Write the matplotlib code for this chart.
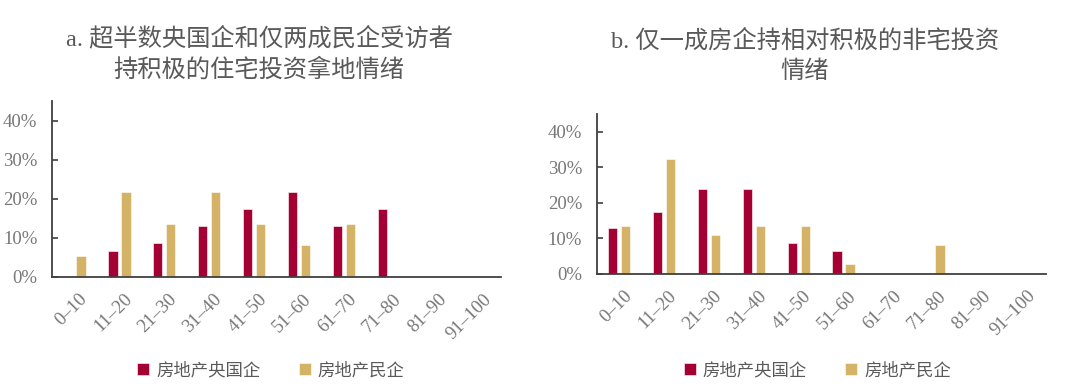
import numpy as np
import matplotlib
matplotlib.use('Agg')
import matplotlib.pyplot as plt
from matplotlib.ticker import PercentFormatter
from matplotlib.transforms import ScaledTranslation

plt.rcParams['font.family'] = ['Liberation Serif', 'Noto Sans CJK SC']

categories = ['0–10', '11–20', '21–30', '31–40', '41–50', '51–60',
              '61–70', '71–80', '81–90', '91–100']
series_names = ['房地产央国企', '房地产民企']

# a. 住宅投资拿地情绪 (%)
resid_soe = [0, 6.5, 8.7, 13.0, 17.4, 21.7, 13.0, 17.4, 0, 0]
resid_private = [5.4, 21.6, 13.5, 21.6, 13.5, 8.1, 13.5, 0, 0, 0]

# b. 非宅投资情绪 (%)
nonres_soe = [13.0, 17.4, 23.9, 23.9, 8.7, 6.5, 0, 0, 0, 0]
nonres_private = [13.5, 32.4, 10.8, 13.5, 13.5, 2.7, 0, 8.1, 0, 0]

titles = ['a. 超半数央国企和仅两成民企受访者\n持积极的住宅投资拿地情绪',
          'b. 仅一成房企持相对积极的非宅投资\n情绪']

red = '#A50034'
gold = '#D4B366'
text_grey = '#595959'
tick_grey = '#777777'

fig = plt.figure(figsize=(10.8, 3.92), dpi=100)
ax_pos = [[0.0481, 0.294, 0.4158, 0.448],
          [0.5525, 0.302, 0.4157, 0.407]]
title_x = [0.24, 0.745]
title_y = [0.862, 0.857]
legend_x = [0.251, 0.757]
data = [(resid_soe, resid_private), (nonres_soe, nonres_private)]

x = np.arange(len(categories))
w = 0.21
off = 0.145

for i in range(2):
    ax = fig.add_axes(ax_pos[i])
    soe, pri = data[i]
    b1 = ax.bar(x - off, soe, w, color=red, edgecolor='white', linewidth=0.4, label=series_names[0])
    b2 = ax.bar(x + off, pri, w, color=gold, edgecolor='white', linewidth=0.4, label=series_names[1])
    ax.set_xlim(-0.5, len(categories) - 0.5)
    ax.set_ylim(0, 45)
    ax.set_yticks([0, 10, 20, 30, 40])
    ax.yaxis.set_major_formatter(PercentFormatter(decimals=0))
    for s in ['top', 'right']:
        ax.spines[s].set_visible(False)
    for s in ['left', 'bottom']:
        ax.spines[s].set_color('#404040')
        ax.spines[s].set_linewidth(1.3)
    ax.tick_params(axis='y', direction='in', length=4, width=1.2, color='#404040',
                   labelsize=13.5, labelcolor=tick_grey, pad=10.5)
    ax.tick_params(axis='x', length=0, labelsize=13.5, labelcolor=tick_grey, pad=10)
    ax.set_xticks(x)
    ax.set_xticklabels(categories, rotation=45, ha='right', rotation_mode='anchor')
    shift = ScaledTranslation(3 / 72, 0, fig.dpi_scale_trans)
    for lab in ax.get_xticklabels():
        lab.set_transform(lab.get_transform() + shift)

    fig.text(title_x[i], title_y[i], titles[i], ha='center', va='center', fontsize=17.5,
             color=text_grey, linespacing=1.45)
    fig.legend(handles=[b1, b2], loc='center', bbox_to_anchor=(legend_x[i], 0.054),
               ncol=2, frameon=False, fontsize=12.5, labelcolor=text_grey,
               handlelength=0.7, handleheight=0.7, handletextpad=0.4, columnspacing=2.2)

fig.savefig('out.png', dpi=100)
